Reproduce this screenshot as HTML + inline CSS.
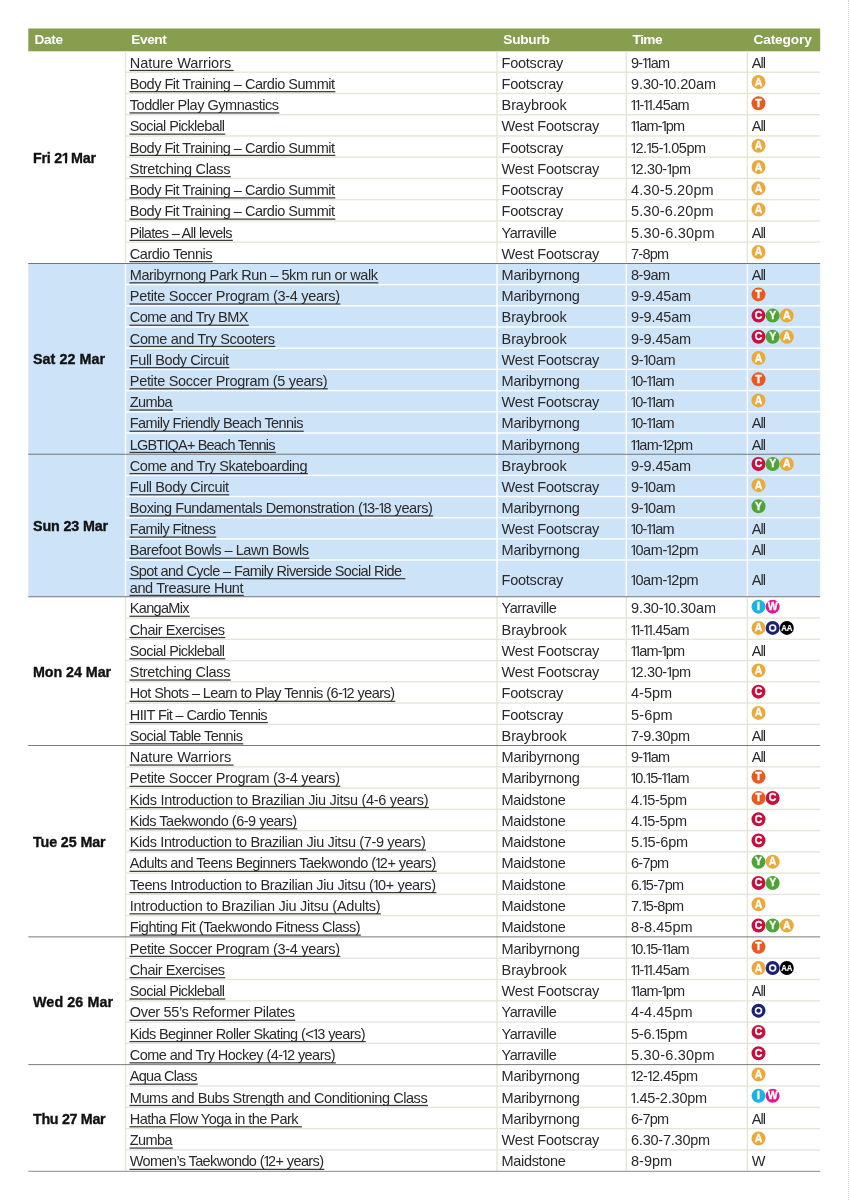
<!DOCTYPE html>
<html><head><meta charset="utf-8"><title>Active Maribyrnong timetable</title><style>
html,body{margin:0;padding:0}
body{width:849px;height:1200px;position:relative;background:#fff;overflow:hidden;font-family:"Liberation Sans",sans-serif;color:#2b2829}
div{position:absolute;box-sizing:border-box}
.hd{color:#fff;font-weight:bold;font-size:13.7px;top:28.5px;height:22.5px;line-height:22.5px;white-space:nowrap}
.t{white-space:pre;font-size:14.5px}
.e{}
.d{font-weight:bold;font-size:14.3px;color:#111;-webkit-text-stroke:0.35px #111}
.d i{margin-left:-0.03em;margin-right:-0.15em;clip-path:polygon(0 0,100% 0,100% 0.70em,0.376em 0.70em,0.376em 100%,0.228em 100%,0.228em 0.70em,0 0.70em)}
.c{width:14px;height:14px;border-radius:50%;color:#fff;font-weight:bold;font-size:10.6px;line-height:14.4px;text-align:center;-webkit-text-stroke:0.25px #fff}
i{font-style:normal;display:inline-block;line-height:1;margin-left:-0.07em;margin-right:-0.155em;clip-path:polygon(0 0,100% 0,100% 0.74em,0.345em 0.74em,0.345em 100%,0.247em 100%,0.247em 0.74em,0 0.74em)}
.ct{font-family:"Liberation Sans",sans-serif;font-weight:bold;fill:#fff;text-anchor:middle;stroke:#fff;stroke-width:0.35px}
.hl{height:1.4px;left:125.5px;width:694.7px}
.sl{height:1px;left:28.3px;width:791.9px;background:#6d6e70}
.vl{width:1.5px}

</style></head><body><div id="w" style="left:0;top:0;width:849px;height:1200px;will-change:transform;">
<div style="left:848px;top:0;width:1px;height:1200px;border-left:1px dotted #d2d2d2"></div>
<svg width="849" height="1200" viewBox="0 0 849 1200" style="position:absolute;left:0;top:0"><rect x="28.30" y="28.50" width="791.90" height="22.80" fill="#869e4e"/><rect x="28.30" y="263.40" width="791.90" height="190.80" fill="#cde3f7"/><rect x="28.30" y="454.20" width="791.90" height="142.60" fill="#cde3f7"/><rect x="124.80" y="51.00" width="1.40" height="212.40" fill="#e4e7d7"/><rect x="496.30" y="51.00" width="1.40" height="212.40" fill="#e4e7d7"/><rect x="625.60" y="51.00" width="1.40" height="212.40" fill="#e4e7d7"/><rect x="746.70" y="51.00" width="1.40" height="212.40" fill="#e4e7d7"/><rect x="124.80" y="71.54" width="695.40" height="1.40" fill="#e4e7d7"/><rect x="124.80" y="92.78" width="695.40" height="1.40" fill="#e4e7d7"/><rect x="124.80" y="114.02" width="695.40" height="1.40" fill="#e4e7d7"/><rect x="124.80" y="135.26" width="695.40" height="1.40" fill="#e4e7d7"/><rect x="124.80" y="156.50" width="695.40" height="1.40" fill="#e4e7d7"/><rect x="124.80" y="177.74" width="695.40" height="1.40" fill="#e4e7d7"/><rect x="124.80" y="198.98" width="695.40" height="1.40" fill="#e4e7d7"/><rect x="124.80" y="220.22" width="695.40" height="1.40" fill="#e4e7d7"/><rect x="124.80" y="241.46" width="695.40" height="1.40" fill="#e4e7d7"/><rect x="124.80" y="263.40" width="1.40" height="190.80" fill="#fff"/><rect x="496.30" y="263.40" width="1.40" height="190.80" fill="#fff"/><rect x="625.60" y="263.40" width="1.40" height="190.80" fill="#fff"/><rect x="746.70" y="263.40" width="1.40" height="190.80" fill="#fff"/><rect x="124.80" y="283.90" width="695.40" height="1.40" fill="#fff"/><rect x="124.80" y="305.10" width="695.40" height="1.40" fill="#fff"/><rect x="124.80" y="326.30" width="695.40" height="1.40" fill="#fff"/><rect x="124.80" y="347.50" width="695.40" height="1.40" fill="#fff"/><rect x="124.80" y="368.70" width="695.40" height="1.40" fill="#fff"/><rect x="124.80" y="389.90" width="695.40" height="1.40" fill="#fff"/><rect x="124.80" y="411.10" width="695.40" height="1.40" fill="#fff"/><rect x="124.80" y="432.30" width="695.40" height="1.40" fill="#fff"/><rect x="124.80" y="454.20" width="1.40" height="142.60" fill="#fff"/><rect x="496.30" y="454.20" width="1.40" height="142.60" fill="#fff"/><rect x="625.60" y="454.20" width="1.40" height="142.60" fill="#fff"/><rect x="746.70" y="454.20" width="1.40" height="142.60" fill="#fff"/><rect x="124.80" y="474.66" width="695.40" height="1.40" fill="#fff"/><rect x="124.80" y="495.82" width="695.40" height="1.40" fill="#fff"/><rect x="124.80" y="516.98" width="695.40" height="1.40" fill="#fff"/><rect x="124.80" y="538.14" width="695.40" height="1.40" fill="#fff"/><rect x="124.80" y="559.30" width="695.40" height="1.40" fill="#fff"/><rect x="124.80" y="596.80" width="1.40" height="148.80" fill="#e4e7d7"/><rect x="496.30" y="596.80" width="1.40" height="148.80" fill="#e4e7d7"/><rect x="625.60" y="596.80" width="1.40" height="148.80" fill="#e4e7d7"/><rect x="746.70" y="596.80" width="1.40" height="148.80" fill="#e4e7d7"/><rect x="124.80" y="617.36" width="695.40" height="1.40" fill="#e4e7d7"/><rect x="124.80" y="638.61" width="695.40" height="1.40" fill="#e4e7d7"/><rect x="124.80" y="659.87" width="695.40" height="1.40" fill="#e4e7d7"/><rect x="124.80" y="681.13" width="695.40" height="1.40" fill="#e4e7d7"/><rect x="124.80" y="702.39" width="695.40" height="1.40" fill="#e4e7d7"/><rect x="124.80" y="723.64" width="695.40" height="1.40" fill="#e4e7d7"/><rect x="124.80" y="745.60" width="1.40" height="191.30" fill="#e4e7d7"/><rect x="496.30" y="745.60" width="1.40" height="191.30" fill="#e4e7d7"/><rect x="625.60" y="745.60" width="1.40" height="191.30" fill="#e4e7d7"/><rect x="746.70" y="745.60" width="1.40" height="191.30" fill="#e4e7d7"/><rect x="124.80" y="766.16" width="695.40" height="1.40" fill="#e4e7d7"/><rect x="124.80" y="787.41" width="695.40" height="1.40" fill="#e4e7d7"/><rect x="124.80" y="808.67" width="695.40" height="1.40" fill="#e4e7d7"/><rect x="124.80" y="829.92" width="695.40" height="1.40" fill="#e4e7d7"/><rect x="124.80" y="851.18" width="695.40" height="1.40" fill="#e4e7d7"/><rect x="124.80" y="872.43" width="695.40" height="1.40" fill="#e4e7d7"/><rect x="124.80" y="893.69" width="695.40" height="1.40" fill="#e4e7d7"/><rect x="124.80" y="914.94" width="695.40" height="1.40" fill="#e4e7d7"/><rect x="124.80" y="936.90" width="1.40" height="127.80" fill="#e4e7d7"/><rect x="496.30" y="936.90" width="1.40" height="127.80" fill="#e4e7d7"/><rect x="625.60" y="936.90" width="1.40" height="127.80" fill="#e4e7d7"/><rect x="746.70" y="936.90" width="1.40" height="127.80" fill="#e4e7d7"/><rect x="124.80" y="957.50" width="695.40" height="1.40" fill="#e4e7d7"/><rect x="124.80" y="978.80" width="695.40" height="1.40" fill="#e4e7d7"/><rect x="124.80" y="1000.10" width="695.40" height="1.40" fill="#e4e7d7"/><rect x="124.80" y="1021.40" width="695.40" height="1.40" fill="#e4e7d7"/><rect x="124.80" y="1042.70" width="695.40" height="1.40" fill="#e4e7d7"/><rect x="124.80" y="1064.70" width="1.40" height="106.50" fill="#e4e7d7"/><rect x="496.30" y="1064.70" width="1.40" height="106.50" fill="#e4e7d7"/><rect x="625.60" y="1064.70" width="1.40" height="106.50" fill="#e4e7d7"/><rect x="746.70" y="1064.70" width="1.40" height="106.50" fill="#e4e7d7"/><rect x="124.80" y="1085.30" width="695.40" height="1.40" fill="#e4e7d7"/><rect x="124.80" y="1106.60" width="695.40" height="1.40" fill="#e4e7d7"/><rect x="124.80" y="1127.90" width="695.40" height="1.40" fill="#e4e7d7"/><rect x="124.80" y="1149.20" width="695.40" height="1.40" fill="#e4e7d7"/><rect x="28.30" y="263.00" width="791.90" height="0.80" fill="#58595b"/><rect x="28.30" y="453.80" width="791.90" height="0.80" fill="#58595b"/><rect x="28.30" y="596.40" width="791.90" height="0.80" fill="#58595b"/><rect x="28.30" y="745.20" width="791.90" height="0.80" fill="#58595b"/><rect x="28.30" y="936.50" width="791.90" height="0.80" fill="#58595b"/><rect x="28.30" y="1064.30" width="791.90" height="0.80" fill="#58595b"/><rect x="28.30" y="1170.80" width="791.90" height="1.00" fill="#8a8b8d"/><rect x="129.50" y="69.83" width="104.10" height="1.25" fill="#3c3a3b"/><rect x="129.50" y="91.06" width="205.80" height="1.25" fill="#3c3a3b"/><rect x="129.50" y="112.30" width="149.80" height="1.25" fill="#3c3a3b"/><rect x="129.50" y="133.54" width="95.80" height="1.25" fill="#3c3a3b"/><rect x="129.50" y="154.78" width="205.80" height="1.25" fill="#3c3a3b"/><rect x="129.50" y="176.02" width="101.30" height="1.25" fill="#3c3a3b"/><rect x="129.50" y="197.26" width="205.80" height="1.25" fill="#3c3a3b"/><rect x="129.50" y="218.50" width="205.80" height="1.25" fill="#3c3a3b"/><rect x="129.50" y="239.75" width="103.30" height="1.25" fill="#3c3a3b"/><rect x="129.50" y="260.99" width="83.30" height="1.25" fill="#3c3a3b"/><rect x="129.50" y="282.20" width="248.80" height="1.25" fill="#3c3a3b"/><rect x="129.50" y="303.40" width="210.80" height="1.25" fill="#3c3a3b"/><rect x="129.50" y="324.60" width="119.30" height="1.25" fill="#3c3a3b"/><rect x="129.50" y="345.80" width="145.80" height="1.25" fill="#3c3a3b"/><rect x="129.50" y="367.00" width="99.80" height="1.25" fill="#3c3a3b"/><rect x="129.50" y="388.20" width="198.30" height="1.25" fill="#3c3a3b"/><rect x="129.50" y="409.40" width="43.30" height="1.25" fill="#3c3a3b"/><rect x="129.50" y="430.60" width="174.30" height="1.25" fill="#3c3a3b"/><rect x="129.50" y="451.80" width="146.30" height="1.25" fill="#3c3a3b"/><rect x="129.50" y="472.98" width="178.30" height="1.25" fill="#3c3a3b"/><rect x="129.50" y="494.14" width="99.80" height="1.25" fill="#3c3a3b"/><rect x="129.50" y="515.30" width="303.60" height="1.25" fill="#3c3a3b"/><rect x="129.50" y="536.47" width="86.80" height="1.25" fill="#3c3a3b"/><rect x="129.50" y="557.62" width="179.80" height="1.25" fill="#3c3a3b"/><rect x="129.50" y="578.02" width="275.80" height="1.25" fill="#3c3a3b"/><rect x="129.50" y="594.82" width="114.30" height="1.25" fill="#3c3a3b"/><rect x="129.50" y="615.63" width="60.30" height="1.25" fill="#3c3a3b"/><rect x="129.50" y="636.89" width="95.80" height="1.25" fill="#3c3a3b"/><rect x="129.50" y="658.15" width="95.80" height="1.25" fill="#3c3a3b"/><rect x="129.50" y="679.41" width="101.30" height="1.25" fill="#3c3a3b"/><rect x="129.50" y="700.66" width="265.80" height="1.25" fill="#3c3a3b"/><rect x="129.50" y="721.92" width="138.30" height="1.25" fill="#3c3a3b"/><rect x="129.50" y="743.18" width="113.80" height="1.25" fill="#3c3a3b"/><rect x="129.50" y="764.43" width="104.10" height="1.25" fill="#3c3a3b"/><rect x="129.50" y="785.69" width="210.80" height="1.25" fill="#3c3a3b"/><rect x="129.50" y="806.94" width="299.40" height="1.25" fill="#3c3a3b"/><rect x="129.50" y="828.20" width="167.80" height="1.25" fill="#3c3a3b"/><rect x="129.50" y="849.46" width="296.60" height="1.25" fill="#3c3a3b"/><rect x="129.50" y="870.71" width="307.20" height="1.25" fill="#3c3a3b"/><rect x="129.50" y="891.97" width="306.80" height="1.25" fill="#3c3a3b"/><rect x="129.50" y="913.22" width="251.30" height="1.25" fill="#3c3a3b"/><rect x="129.50" y="934.48" width="231.30" height="1.25" fill="#3c3a3b"/><rect x="129.50" y="955.75" width="210.80" height="1.25" fill="#3c3a3b"/><rect x="129.50" y="977.06" width="95.80" height="1.25" fill="#3c3a3b"/><rect x="129.50" y="998.36" width="95.80" height="1.25" fill="#3c3a3b"/><rect x="129.50" y="1019.65" width="165.80" height="1.25" fill="#3c3a3b"/><rect x="129.50" y="1040.95" width="236.30" height="1.25" fill="#3c3a3b"/><rect x="129.50" y="1062.25" width="206.30" height="1.25" fill="#3c3a3b"/><rect x="129.50" y="1083.56" width="68.30" height="1.25" fill="#3c3a3b"/><rect x="129.50" y="1104.86" width="298.50" height="1.25" fill="#3c3a3b"/><rect x="129.50" y="1126.15" width="172.30" height="1.25" fill="#3c3a3b"/><rect x="129.50" y="1147.45" width="43.30" height="1.25" fill="#3c3a3b"/><rect x="129.50" y="1168.75" width="194.80" height="1.25" fill="#3c3a3b"/><circle cx="758.50" cy="82.06" r="7" fill="#eda83a"/><text x="758.50" y="85.56" font-size="10.5" class="ct">A</text><circle cx="758.50" cy="103.30" r="7" fill="#ea5a1e"/><text x="758.50" y="106.80" font-size="10.5" class="ct">T</text><circle cx="758.50" cy="145.78" r="7" fill="#eda83a"/><text x="758.50" y="149.28" font-size="10.5" class="ct">A</text><circle cx="758.50" cy="167.02" r="7" fill="#eda83a"/><text x="758.50" y="170.52" font-size="10.5" class="ct">A</text><circle cx="758.50" cy="188.26" r="7" fill="#eda83a"/><text x="758.50" y="191.76" font-size="10.5" class="ct">A</text><circle cx="758.50" cy="209.50" r="7" fill="#eda83a"/><text x="758.50" y="213.00" font-size="10.5" class="ct">A</text><circle cx="758.50" cy="251.98" r="7" fill="#eda83a"/><text x="758.50" y="255.48" font-size="10.5" class="ct">A</text><circle cx="758.50" cy="294.40" r="7" fill="#ea5a1e"/><text x="758.50" y="297.90" font-size="10.5" class="ct">T</text><circle cx="758.50" cy="315.60" r="7" fill="#c8103f"/><text x="758.50" y="319.10" font-size="10.5" class="ct">C</text><circle cx="772.65" cy="315.60" r="7" fill="#4ea536"/><text x="772.65" y="319.10" font-size="10.5" class="ct">Y</text><circle cx="786.80" cy="315.60" r="7" fill="#eda83a"/><text x="786.80" y="319.10" font-size="10.5" class="ct">A</text><circle cx="758.50" cy="336.80" r="7" fill="#c8103f"/><text x="758.50" y="340.30" font-size="10.5" class="ct">C</text><circle cx="772.65" cy="336.80" r="7" fill="#4ea536"/><text x="772.65" y="340.30" font-size="10.5" class="ct">Y</text><circle cx="786.80" cy="336.80" r="7" fill="#eda83a"/><text x="786.80" y="340.30" font-size="10.5" class="ct">A</text><circle cx="758.50" cy="358.00" r="7" fill="#eda83a"/><text x="758.50" y="361.50" font-size="10.5" class="ct">A</text><circle cx="758.50" cy="379.20" r="7" fill="#ea5a1e"/><text x="758.50" y="382.70" font-size="10.5" class="ct">T</text><circle cx="758.50" cy="400.40" r="7" fill="#eda83a"/><text x="758.50" y="403.90" font-size="10.5" class="ct">A</text><circle cx="758.50" cy="463.98" r="7" fill="#c8103f"/><text x="758.50" y="467.48" font-size="10.5" class="ct">C</text><circle cx="772.65" cy="463.98" r="7" fill="#4ea536"/><text x="772.65" y="467.48" font-size="10.5" class="ct">Y</text><circle cx="786.80" cy="463.98" r="7" fill="#eda83a"/><text x="786.80" y="467.48" font-size="10.5" class="ct">A</text><circle cx="758.50" cy="485.14" r="7" fill="#eda83a"/><text x="758.50" y="488.64" font-size="10.5" class="ct">A</text><circle cx="758.50" cy="506.30" r="7" fill="#4ea536"/><text x="758.50" y="509.80" font-size="10.5" class="ct">Y</text><circle cx="758.50" cy="606.63" r="7" fill="#1ab4e2"/><text x="758.50" y="610.13" font-size="10.5" class="ct">I</text><circle cx="772.65" cy="606.63" r="7" fill="#e5158c"/><text x="772.65" y="610.13" font-size="10.5" class="ct">W</text><circle cx="758.50" cy="627.89" r="7" fill="#eda83a"/><text x="758.50" y="631.39" font-size="10.5" class="ct">A</text><circle cx="772.65" cy="627.89" r="7" fill="#1c2173"/><circle cx="772.65" cy="627.89" r="2.95" fill="none" stroke="#fff" stroke-width="1.6"/><circle cx="786.80" cy="627.89" r="7" fill="#000"/><text transform="translate(786.80,630.89) scale(0.8,1)" font-size="9.8" class="ct" style="stroke-width:0.2px">AA</text><circle cx="758.50" cy="670.40" r="7" fill="#eda83a"/><text x="758.50" y="673.90" font-size="10.5" class="ct">A</text><circle cx="758.50" cy="691.66" r="7" fill="#c8103f"/><text x="758.50" y="695.16" font-size="10.5" class="ct">C</text><circle cx="758.50" cy="712.91" r="7" fill="#eda83a"/><text x="758.50" y="716.41" font-size="10.5" class="ct">A</text><circle cx="758.50" cy="776.68" r="7" fill="#ea5a1e"/><text x="758.50" y="780.18" font-size="10.5" class="ct">T</text><circle cx="758.50" cy="797.94" r="7" fill="#ea5a1e"/><text x="758.50" y="801.44" font-size="10.5" class="ct">T</text><circle cx="772.65" cy="797.94" r="7" fill="#c8103f"/><text x="772.65" y="801.44" font-size="10.5" class="ct">C</text><circle cx="758.50" cy="819.19" r="7" fill="#c8103f"/><text x="758.50" y="822.69" font-size="10.5" class="ct">C</text><circle cx="758.50" cy="840.45" r="7" fill="#c8103f"/><text x="758.50" y="843.95" font-size="10.5" class="ct">C</text><circle cx="758.50" cy="861.71" r="7" fill="#4ea536"/><text x="758.50" y="865.21" font-size="10.5" class="ct">Y</text><circle cx="772.65" cy="861.71" r="7" fill="#eda83a"/><text x="772.65" y="865.21" font-size="10.5" class="ct">A</text><circle cx="758.50" cy="882.96" r="7" fill="#c8103f"/><text x="758.50" y="886.46" font-size="10.5" class="ct">C</text><circle cx="772.65" cy="882.96" r="7" fill="#4ea536"/><text x="772.65" y="886.46" font-size="10.5" class="ct">Y</text><circle cx="758.50" cy="904.22" r="7" fill="#eda83a"/><text x="758.50" y="907.72" font-size="10.5" class="ct">A</text><circle cx="758.50" cy="925.47" r="7" fill="#c8103f"/><text x="758.50" y="928.97" font-size="10.5" class="ct">C</text><circle cx="772.65" cy="925.47" r="7" fill="#4ea536"/><text x="772.65" y="928.97" font-size="10.5" class="ct">Y</text><circle cx="786.80" cy="925.47" r="7" fill="#eda83a"/><text x="786.80" y="928.97" font-size="10.5" class="ct">A</text><circle cx="758.50" cy="946.75" r="7" fill="#ea5a1e"/><text x="758.50" y="950.25" font-size="10.5" class="ct">T</text><circle cx="758.50" cy="968.05" r="7" fill="#eda83a"/><text x="758.50" y="971.55" font-size="10.5" class="ct">A</text><circle cx="772.65" cy="968.05" r="7" fill="#1c2173"/><circle cx="772.65" cy="968.05" r="2.95" fill="none" stroke="#fff" stroke-width="1.6"/><circle cx="786.80" cy="968.05" r="7" fill="#000"/><text transform="translate(786.80,971.05) scale(0.8,1)" font-size="9.8" class="ct" style="stroke-width:0.2px">AA</text><circle cx="758.50" cy="1010.65" r="7" fill="#1c2173"/><circle cx="758.50" cy="1010.65" r="2.95" fill="none" stroke="#fff" stroke-width="1.6"/><circle cx="758.50" cy="1031.95" r="7" fill="#c8103f"/><text x="758.50" y="1035.45" font-size="10.5" class="ct">C</text><circle cx="758.50" cy="1053.25" r="7" fill="#c8103f"/><text x="758.50" y="1056.75" font-size="10.5" class="ct">C</text><circle cx="758.50" cy="1074.55" r="7" fill="#eda83a"/><text x="758.50" y="1078.05" font-size="10.5" class="ct">A</text><circle cx="758.50" cy="1095.85" r="7" fill="#1ab4e2"/><text x="758.50" y="1099.35" font-size="10.5" class="ct">I</text><circle cx="772.65" cy="1095.85" r="7" fill="#e5158c"/><text x="772.65" y="1099.35" font-size="10.5" class="ct">W</text><circle cx="758.50" cy="1138.45" r="7" fill="#eda83a"/><text x="758.50" y="1141.95" font-size="10.5" class="ct">A</text></svg>
<div class="hd" style="left:34.4px;letter-spacing:-0.324px">Date</div>
<div class="hd" style="left:131.3px;letter-spacing:-0.445px">Event</div>
<div class="hd" style="left:503.3px;letter-spacing:-0.281px">Suburb</div>
<div class="hd" style="left:632.6px;letter-spacing:-0.568px">Time</div>
<div class="hd" style="left:753.5px;letter-spacing:-0.147px">Category</div>
<div class="t e" style="left:129.8px;top:53.00px;height:21.24px;line-height:21.24px;letter-spacing:-0.028px">Nature Warriors</div>
<div class="t s" style="left:501.6px;top:53.00px;height:21.24px;line-height:21.24px;letter-spacing:-0.246px">Footscray</div>
<div class="t m" style="left:631.0px;top:53.00px;height:21.24px;line-height:21.24px;letter-spacing:-0.710px">9-<i>1</i><i>1</i>am</div>
<div class="t a" style="left:751.8px;top:53.00px;height:21.24px;line-height:21.24px;letter-spacing:-0.912px">All</div>
<div class="t e" style="left:129.8px;top:74.00px;height:21.24px;line-height:21.24px;letter-spacing:-0.488px">Body Fit Training – Cardio Summit</div>
<div class="t s" style="left:501.6px;top:74.00px;height:21.24px;line-height:21.24px;letter-spacing:-0.246px">Footscray</div>
<div class="t m" style="left:631.0px;top:74.00px;height:21.24px;line-height:21.24px;letter-spacing:-0.107px">9.30-<i>1</i>0.20am</div>
<div class="t e" style="left:129.8px;top:95.00px;height:21.24px;line-height:21.24px;letter-spacing:-0.471px">Toddler Play Gymnastics</div>
<div class="t s" style="left:501.6px;top:95.00px;height:21.24px;line-height:21.24px;letter-spacing:-0.112px">Braybrook</div>
<div class="t m" style="left:631.0px;top:95.00px;height:21.24px;line-height:21.24px;letter-spacing:-0.648px"><i>1</i><i>1</i>-<i>1</i><i>1</i>.45am</div>
<div class="t e" style="left:129.8px;top:116.00px;height:21.24px;line-height:21.24px;letter-spacing:-0.599px">Social Pickleball</div>
<div class="t s" style="left:501.6px;top:116.00px;height:21.24px;line-height:21.24px;letter-spacing:-0.212px">West Footscray</div>
<div class="t m" style="left:631.0px;top:116.00px;height:21.24px;line-height:21.24px;letter-spacing:-0.782px"><i>1</i><i>1</i>am-<i>1</i>pm</div>
<div class="t a" style="left:751.8px;top:116.00px;height:21.24px;line-height:21.24px;letter-spacing:-0.912px">All</div>
<div class="t e" style="left:129.8px;top:138.00px;height:21.24px;line-height:21.24px;letter-spacing:-0.488px">Body Fit Training – Cardio Summit</div>
<div class="t s" style="left:501.6px;top:138.00px;height:21.24px;line-height:21.24px;letter-spacing:-0.246px">Footscray</div>
<div class="t m" style="left:631.0px;top:138.00px;height:21.24px;line-height:21.24px;letter-spacing:-0.422px"><i>1</i>2.<i>1</i>5-<i>1</i>.05pm</div>
<div class="t e" style="left:129.8px;top:159.00px;height:21.24px;line-height:21.24px;letter-spacing:-0.325px">Stretching Class</div>
<div class="t s" style="left:501.6px;top:159.00px;height:21.24px;line-height:21.24px;letter-spacing:-0.212px">West Footscray</div>
<div class="t m" style="left:631.0px;top:159.00px;height:21.24px;line-height:21.24px;letter-spacing:-0.338px"><i>1</i>2.30-<i>1</i>pm</div>
<div class="t e" style="left:129.8px;top:180.00px;height:21.24px;line-height:21.24px;letter-spacing:-0.488px">Body Fit Training – Cardio Summit</div>
<div class="t s" style="left:501.6px;top:180.00px;height:21.24px;line-height:21.24px;letter-spacing:-0.246px">Footscray</div>
<div class="t m" style="left:631.0px;top:180.00px;height:21.24px;line-height:21.24px;letter-spacing:0.128px">4.30-5.20pm</div>
<div class="t e" style="left:129.8px;top:201.00px;height:21.24px;line-height:21.24px;letter-spacing:-0.488px">Body Fit Training – Cardio Summit</div>
<div class="t s" style="left:501.6px;top:201.00px;height:21.24px;line-height:21.24px;letter-spacing:-0.246px">Footscray</div>
<div class="t m" style="left:631.0px;top:201.00px;height:21.24px;line-height:21.24px;letter-spacing:0.128px">5.30-6.20pm</div>
<div class="t e" style="left:129.8px;top:223.00px;height:21.24px;line-height:21.24px;letter-spacing:-0.703px">Pilates – All levels</div>
<div class="t s" style="left:501.6px;top:223.00px;height:21.24px;line-height:21.24px;letter-spacing:-0.462px">Yarraville</div>
<div class="t m" style="left:631.0px;top:223.00px;height:21.24px;line-height:21.24px;letter-spacing:0.228px">5.30-6.30pm</div>
<div class="t a" style="left:751.8px;top:223.00px;height:21.24px;line-height:21.24px;letter-spacing:-0.912px">All</div>
<div class="t e" style="left:129.8px;top:244.00px;height:21.24px;line-height:21.24px;letter-spacing:-0.476px">Cardio Tennis</div>
<div class="t s" style="left:501.6px;top:244.00px;height:21.24px;line-height:21.24px;letter-spacing:-0.212px">West Footscray</div>
<div class="t m" style="left:631.0px;top:244.00px;height:21.24px;line-height:21.24px;letter-spacing:-0.727px">7-8pm</div>
<div class="t d" style="left:33px;top:51.00px;height:212.40px;line-height:214.60px;letter-spacing:-0.222px">Fri 2<i>1</i> Mar</div>
<div class="t e" style="left:129.8px;top:265.00px;height:21.20px;line-height:21.20px;letter-spacing:-0.414px">Maribyrnong Park Run – 5km run or walk</div>
<div class="t s" style="left:501.6px;top:265.00px;height:21.20px;line-height:21.20px;letter-spacing:-0.239px">Maribyrnong</div>
<div class="t m" style="left:631.0px;top:265.00px;height:21.20px;line-height:21.20px;letter-spacing:-0.477px">8-9am</div>
<div class="t a" style="left:751.8px;top:265.00px;height:21.20px;line-height:21.20px;letter-spacing:-0.912px">All</div>
<div class="t e" style="left:129.8px;top:286.00px;height:21.20px;line-height:21.20px;letter-spacing:-0.306px">Petite Soccer Program (3-4 years)</div>
<div class="t s" style="left:501.6px;top:286.00px;height:21.20px;line-height:21.20px;letter-spacing:-0.239px">Maribyrnong</div>
<div class="t m" style="left:631.0px;top:286.00px;height:21.20px;line-height:21.20px;letter-spacing:-0.152px">9-9.45am</div>
<div class="t e" style="left:129.8px;top:307.00px;height:21.20px;line-height:21.20px;letter-spacing:-0.521px">Come and Try BMX</div>
<div class="t s" style="left:501.6px;top:307.00px;height:21.20px;line-height:21.20px;letter-spacing:-0.112px">Braybrook</div>
<div class="t m" style="left:631.0px;top:307.00px;height:21.20px;line-height:21.20px;letter-spacing:-0.152px">9-9.45am</div>
<div class="t e" style="left:129.8px;top:329.00px;height:21.20px;line-height:21.20px;letter-spacing:-0.356px">Come and Try Scooters</div>
<div class="t s" style="left:501.6px;top:329.00px;height:21.20px;line-height:21.20px;letter-spacing:-0.112px">Braybrook</div>
<div class="t m" style="left:631.0px;top:329.00px;height:21.20px;line-height:21.20px;letter-spacing:-0.152px">9-9.45am</div>
<div class="t e" style="left:129.8px;top:350.00px;height:21.20px;line-height:21.20px;letter-spacing:-0.398px">Full Body Circuit</div>
<div class="t s" style="left:501.6px;top:350.00px;height:21.20px;line-height:21.20px;letter-spacing:-0.212px">West Footscray</div>
<div class="t m" style="left:631.0px;top:350.00px;height:21.20px;line-height:21.20px;letter-spacing:-0.254px">9-<i>1</i>0am</div>
<div class="t e" style="left:129.8px;top:371.00px;height:21.20px;line-height:21.20px;letter-spacing:-0.314px">Petite Soccer Program (5 years)</div>
<div class="t s" style="left:501.6px;top:371.00px;height:21.20px;line-height:21.20px;letter-spacing:-0.239px">Maribyrnong</div>
<div class="t m" style="left:631.0px;top:371.00px;height:21.20px;line-height:21.20px;letter-spacing:-0.649px"><i>1</i>0-<i>1</i><i>1</i>am</div>
<div class="t e" style="left:129.8px;top:392.00px;height:21.20px;line-height:21.20px;letter-spacing:-0.610px">Zumba</div>
<div class="t s" style="left:501.6px;top:392.00px;height:21.20px;line-height:21.20px;letter-spacing:-0.212px">West Footscray</div>
<div class="t m" style="left:631.0px;top:392.00px;height:21.20px;line-height:21.20px;letter-spacing:-0.649px"><i>1</i>0-<i>1</i><i>1</i>am</div>
<div class="t e" style="left:129.8px;top:413.00px;height:21.20px;line-height:21.20px;letter-spacing:-0.571px">Family Friendly Beach Tennis</div>
<div class="t s" style="left:501.6px;top:413.00px;height:21.20px;line-height:21.20px;letter-spacing:-0.239px">Maribyrnong</div>
<div class="t m" style="left:631.0px;top:413.00px;height:21.20px;line-height:21.20px;letter-spacing:-0.649px"><i>1</i>0-<i>1</i><i>1</i>am</div>
<div class="t a" style="left:751.8px;top:413.00px;height:21.20px;line-height:21.20px;letter-spacing:-0.912px">All</div>
<div class="t e" style="left:129.8px;top:435.00px;height:21.20px;line-height:21.20px;letter-spacing:-0.823px">LGBTIQA+ Beach Tennis</div>
<div class="t s" style="left:501.6px;top:435.00px;height:21.20px;line-height:21.20px;letter-spacing:-0.239px">Maribyrnong</div>
<div class="t m" style="left:631.0px;top:435.00px;height:21.20px;line-height:21.20px;letter-spacing:-0.692px"><i>1</i><i>1</i>am-<i>1</i>2pm</div>
<div class="t a" style="left:751.8px;top:435.00px;height:21.20px;line-height:21.20px;letter-spacing:-0.912px">All</div>
<div class="t d" style="left:33px;top:263.40px;height:190.80px;line-height:193.00px;letter-spacing:0.063px">Sat 22 Mar</div>
<div class="t e" style="left:129.8px;top:456.00px;height:21.16px;line-height:21.16px;letter-spacing:-0.436px">Come and Try Skateboarding</div>
<div class="t s" style="left:501.6px;top:456.00px;height:21.16px;line-height:21.16px;letter-spacing:-0.112px">Braybrook</div>
<div class="t m" style="left:631.0px;top:456.00px;height:21.16px;line-height:21.16px;letter-spacing:-0.152px">9-9.45am</div>
<div class="t e" style="left:129.8px;top:477.00px;height:21.16px;line-height:21.16px;letter-spacing:-0.398px">Full Body Circuit</div>
<div class="t s" style="left:501.6px;top:477.00px;height:21.16px;line-height:21.16px;letter-spacing:-0.212px">West Footscray</div>
<div class="t m" style="left:631.0px;top:477.00px;height:21.16px;line-height:21.16px;letter-spacing:-0.254px">9-<i>1</i>0am</div>
<div class="t e" style="left:129.8px;top:498.00px;height:21.16px;line-height:21.16px;letter-spacing:-0.422px">Boxing Fundamentals Demonstration (<i>1</i>3-<i>1</i>8 years)</div>
<div class="t s" style="left:501.6px;top:498.00px;height:21.16px;line-height:21.16px;letter-spacing:-0.239px">Maribyrnong</div>
<div class="t m" style="left:631.0px;top:498.00px;height:21.16px;line-height:21.16px;letter-spacing:-0.254px">9-<i>1</i>0am</div>
<div class="t e" style="left:129.8px;top:519.00px;height:21.16px;line-height:21.16px;letter-spacing:-0.559px">Family Fitness</div>
<div class="t s" style="left:501.6px;top:519.00px;height:21.16px;line-height:21.16px;letter-spacing:-0.212px">West Footscray</div>
<div class="t m" style="left:631.0px;top:519.00px;height:21.16px;line-height:21.16px;letter-spacing:-0.649px"><i>1</i>0-<i>1</i><i>1</i>am</div>
<div class="t a" style="left:751.8px;top:519.00px;height:21.16px;line-height:21.16px;letter-spacing:-0.912px">All</div>
<div class="t e" style="left:129.8px;top:540.00px;height:21.16px;line-height:21.16px;letter-spacing:-0.454px">Barefoot Bowls – Lawn Bowls</div>
<div class="t s" style="left:501.6px;top:540.00px;height:21.16px;line-height:21.16px;letter-spacing:-0.239px">Maribyrnong</div>
<div class="t m" style="left:631.0px;top:540.00px;height:21.16px;line-height:21.16px;letter-spacing:-0.407px"><i>1</i>0am-<i>1</i>2pm</div>
<div class="t a" style="left:751.8px;top:540.00px;height:21.16px;line-height:21.16px;letter-spacing:-0.912px">All</div>
<div class="t e" style="left:129.8px;top:561.00px;height:20.20px;line-height:20.20px;letter-spacing:-0.607px">Spot and Cycle – Family Riverside Social Ride</div>
<div class="t e" style="left:129.8px;top:578.00px;height:20.20px;line-height:20.20px;letter-spacing:-0.401px">and Treasure Hunt</div>
<div class="t s" style="left:501.6px;top:562.00px;height:36.80px;line-height:36.80px;letter-spacing:-0.246px">Footscray</div>
<div class="t m" style="left:631.0px;top:562.00px;height:36.80px;line-height:36.80px;letter-spacing:-0.407px"><i>1</i>0am-<i>1</i>2pm</div>
<div class="t a" style="left:751.8px;top:562.00px;height:36.80px;line-height:36.80px;letter-spacing:-0.912px">All</div>
<div class="t d" style="left:33px;top:454.20px;height:142.60px;line-height:144.80px;letter-spacing:-0.131px">Sun 23 Mar</div>
<div class="t e" style="left:129.8px;top:598.00px;height:21.26px;line-height:21.26px;letter-spacing:-0.683px">KangaMix</div>
<div class="t s" style="left:501.6px;top:598.00px;height:21.26px;line-height:21.26px;letter-spacing:-0.462px">Yarraville</div>
<div class="t m" style="left:631.0px;top:598.00px;height:21.26px;line-height:21.26px;letter-spacing:-0.107px">9.30-<i>1</i>0.30am</div>
<div class="t e" style="left:129.8px;top:620.00px;height:21.26px;line-height:21.26px;letter-spacing:-0.452px">Chair Exercises</div>
<div class="t s" style="left:501.6px;top:620.00px;height:21.26px;line-height:21.26px;letter-spacing:-0.112px">Braybrook</div>
<div class="t m" style="left:631.0px;top:620.00px;height:21.26px;line-height:21.26px;letter-spacing:-0.648px"><i>1</i><i>1</i>-<i>1</i><i>1</i>.45am</div>
<div class="t e" style="left:129.8px;top:641.00px;height:21.26px;line-height:21.26px;letter-spacing:-0.599px">Social Pickleball</div>
<div class="t s" style="left:501.6px;top:641.00px;height:21.26px;line-height:21.26px;letter-spacing:-0.212px">West Footscray</div>
<div class="t m" style="left:631.0px;top:641.00px;height:21.26px;line-height:21.26px;letter-spacing:-0.782px"><i>1</i><i>1</i>am-<i>1</i>pm</div>
<div class="t a" style="left:751.8px;top:641.00px;height:21.26px;line-height:21.26px;letter-spacing:-0.912px">All</div>
<div class="t e" style="left:129.8px;top:662.00px;height:21.26px;line-height:21.26px;letter-spacing:-0.325px">Stretching Class</div>
<div class="t s" style="left:501.6px;top:662.00px;height:21.26px;line-height:21.26px;letter-spacing:-0.212px">West Footscray</div>
<div class="t m" style="left:631.0px;top:662.00px;height:21.26px;line-height:21.26px;letter-spacing:-0.338px"><i>1</i>2.30-<i>1</i>pm</div>
<div class="t e" style="left:129.8px;top:683.00px;height:21.26px;line-height:21.26px;letter-spacing:-0.562px">Hot Shots – Learn to Play Tennis (6-<i>1</i>2 years)</div>
<div class="t s" style="left:501.6px;top:683.00px;height:21.26px;line-height:21.26px;letter-spacing:-0.246px">Footscray</div>
<div class="t m" style="left:631.0px;top:683.00px;height:21.26px;line-height:21.26px;letter-spacing:0.023px">4-5pm</div>
<div class="t e" style="left:129.8px;top:705.00px;height:21.26px;line-height:21.26px;letter-spacing:-0.612px">HIIT Fit – Cardio Tennis</div>
<div class="t s" style="left:501.6px;top:705.00px;height:21.26px;line-height:21.26px;letter-spacing:-0.246px">Footscray</div>
<div class="t m" style="left:631.0px;top:705.00px;height:21.26px;line-height:21.26px;letter-spacing:0.148px">5-6pm</div>
<div class="t e" style="left:129.8px;top:726.00px;height:21.26px;line-height:21.26px;letter-spacing:-0.578px">Social Table Tennis</div>
<div class="t s" style="left:501.6px;top:726.00px;height:21.26px;line-height:21.26px;letter-spacing:-0.112px">Braybrook</div>
<div class="t m" style="left:631.0px;top:726.00px;height:21.26px;line-height:21.26px;letter-spacing:-0.295px">7-9.30pm</div>
<div class="t a" style="left:751.8px;top:726.00px;height:21.26px;line-height:21.26px;letter-spacing:-0.912px">All</div>
<div class="t d" style="left:33px;top:596.80px;height:148.80px;line-height:151.00px;letter-spacing:-0.062px">Mon 24 Mar</div>
<div class="t e" style="left:129.8px;top:747.00px;height:21.26px;line-height:21.26px;letter-spacing:-0.028px">Nature Warriors</div>
<div class="t s" style="left:501.6px;top:747.00px;height:21.26px;line-height:21.26px;letter-spacing:-0.239px">Maribyrnong</div>
<div class="t m" style="left:631.0px;top:747.00px;height:21.26px;line-height:21.26px;letter-spacing:-0.710px">9-<i>1</i><i>1</i>am</div>
<div class="t a" style="left:751.8px;top:747.00px;height:21.26px;line-height:21.26px;letter-spacing:-0.912px">All</div>
<div class="t e" style="left:129.8px;top:768.00px;height:21.26px;line-height:21.26px;letter-spacing:-0.306px">Petite Soccer Program (3-4 years)</div>
<div class="t s" style="left:501.6px;top:768.00px;height:21.26px;line-height:21.26px;letter-spacing:-0.239px">Maribyrnong</div>
<div class="t m" style="left:631.0px;top:768.00px;height:21.26px;line-height:21.26px;letter-spacing:-0.648px"><i>1</i>0.<i>1</i>5-<i>1</i><i>1</i>am</div>
<div class="t e" style="left:129.8px;top:790.00px;height:21.26px;line-height:21.26px;letter-spacing:-0.304px">Kids Introduction to Brazilian Jiu Jitsu (4-6 years)</div>
<div class="t s" style="left:501.6px;top:790.00px;height:21.26px;line-height:21.26px;letter-spacing:-0.338px">Maidstone</div>
<div class="t m" style="left:631.0px;top:790.00px;height:21.26px;line-height:21.26px;letter-spacing:-0.264px">4.<i>1</i>5-5pm</div>
<div class="t e" style="left:129.8px;top:811.00px;height:21.26px;line-height:21.26px;letter-spacing:-0.491px">Kids Taekwondo (6-9 years)</div>
<div class="t s" style="left:501.6px;top:811.00px;height:21.26px;line-height:21.26px;letter-spacing:-0.338px">Maidstone</div>
<div class="t m" style="left:631.0px;top:811.00px;height:21.26px;line-height:21.26px;letter-spacing:-0.264px">4.<i>1</i>5-5pm</div>
<div class="t e" style="left:129.8px;top:832.00px;height:21.26px;line-height:21.26px;letter-spacing:-0.359px">Kids Introduction to Brazilian Jiu Jitsu (7-9 years)</div>
<div class="t s" style="left:501.6px;top:832.00px;height:21.26px;line-height:21.26px;letter-spacing:-0.338px">Maidstone</div>
<div class="t m" style="left:631.0px;top:832.00px;height:21.26px;line-height:21.26px;letter-spacing:-0.121px">5.<i>1</i>5-6pm</div>
<div class="t e" style="left:129.8px;top:853.00px;height:21.26px;line-height:21.26px;letter-spacing:-0.540px">Adults and Teens Beginners Taekwondo (<i>1</i>2+ years)</div>
<div class="t s" style="left:501.6px;top:853.00px;height:21.26px;line-height:21.26px;letter-spacing:-0.338px">Maidstone</div>
<div class="t m" style="left:631.0px;top:853.00px;height:21.26px;line-height:21.26px;letter-spacing:-0.727px">6-7pm</div>
<div class="t e" style="left:129.8px;top:875.00px;height:21.26px;line-height:21.26px;letter-spacing:-0.366px">Teens Introduction to Brazilian Jiu Jitsu (<i>1</i>0+ years)</div>
<div class="t s" style="left:501.6px;top:875.00px;height:21.26px;line-height:21.26px;letter-spacing:-0.338px">Maidstone</div>
<div class="t m" style="left:631.0px;top:875.00px;height:21.26px;line-height:21.26px;letter-spacing:-0.692px">6.<i>1</i>5-7pm</div>
<div class="t e" style="left:129.8px;top:896.00px;height:21.26px;line-height:21.26px;letter-spacing:-0.261px">Introduction to Brazilian Jiu Jitsu (Adults)</div>
<div class="t s" style="left:501.6px;top:896.00px;height:21.26px;line-height:21.26px;letter-spacing:-0.338px">Maidstone</div>
<div class="t m" style="left:631.0px;top:896.00px;height:21.26px;line-height:21.26px;letter-spacing:-0.692px">7.<i>1</i>5-8pm</div>
<div class="t e" style="left:129.8px;top:917.00px;height:21.26px;line-height:21.26px;letter-spacing:-0.517px">Fighting Fit (Taekwondo Fitness Class)</div>
<div class="t s" style="left:501.6px;top:917.00px;height:21.26px;line-height:21.26px;letter-spacing:-0.338px">Maidstone</div>
<div class="t m" style="left:631.0px;top:917.00px;height:21.26px;line-height:21.26px;letter-spacing:0.062px">8-8.45pm</div>
<div class="t d" style="left:33px;top:745.60px;height:191.30px;line-height:193.50px;letter-spacing:-0.116px">Tue 25 Mar</div>
<div class="t e" style="left:129.8px;top:939.00px;height:21.30px;line-height:21.30px;letter-spacing:-0.306px">Petite Soccer Program (3-4 years)</div>
<div class="t s" style="left:501.6px;top:939.00px;height:21.30px;line-height:21.30px;letter-spacing:-0.239px">Maribyrnong</div>
<div class="t m" style="left:631.0px;top:939.00px;height:21.30px;line-height:21.30px;letter-spacing:-0.648px"><i>1</i>0.<i>1</i>5-<i>1</i><i>1</i>am</div>
<div class="t e" style="left:129.8px;top:960.00px;height:21.30px;line-height:21.30px;letter-spacing:-0.452px">Chair Exercises</div>
<div class="t s" style="left:501.6px;top:960.00px;height:21.30px;line-height:21.30px;letter-spacing:-0.112px">Braybrook</div>
<div class="t m" style="left:631.0px;top:960.00px;height:21.30px;line-height:21.30px;letter-spacing:-0.648px"><i>1</i><i>1</i>-<i>1</i><i>1</i>.45am</div>
<div class="t e" style="left:129.8px;top:981.00px;height:21.30px;line-height:21.30px;letter-spacing:-0.599px">Social Pickleball</div>
<div class="t s" style="left:501.6px;top:981.00px;height:21.30px;line-height:21.30px;letter-spacing:-0.212px">West Footscray</div>
<div class="t m" style="left:631.0px;top:981.00px;height:21.30px;line-height:21.30px;letter-spacing:-0.782px"><i>1</i><i>1</i>am-<i>1</i>pm</div>
<div class="t a" style="left:751.8px;top:981.00px;height:21.30px;line-height:21.30px;letter-spacing:-0.912px">All</div>
<div class="t e" style="left:129.8px;top:1002.00px;height:21.30px;line-height:21.30px;letter-spacing:-0.344px">Over 55’s Reformer Pilates</div>
<div class="t s" style="left:501.6px;top:1002.00px;height:21.30px;line-height:21.30px;letter-spacing:-0.462px">Yarraville</div>
<div class="t m" style="left:631.0px;top:1002.00px;height:21.30px;line-height:21.30px;letter-spacing:0.062px">4-4.45pm</div>
<div class="t e" style="left:129.8px;top:1024.00px;height:21.30px;line-height:21.30px;letter-spacing:-0.601px">Kids Beginner Roller Skating (&lt;<i>1</i>3 years)</div>
<div class="t s" style="left:501.6px;top:1024.00px;height:21.30px;line-height:21.30px;letter-spacing:-0.462px">Yarraville</div>
<div class="t m" style="left:631.0px;top:1024.00px;height:21.30px;line-height:21.30px;letter-spacing:-0.195px">5-6.<i>1</i>5pm</div>
<div class="t e" style="left:129.8px;top:1045.00px;height:21.30px;line-height:21.30px;letter-spacing:-0.540px">Come and Try Hockey (4-<i>1</i>2 years)</div>
<div class="t s" style="left:501.6px;top:1045.00px;height:21.30px;line-height:21.30px;letter-spacing:-0.462px">Yarraville</div>
<div class="t m" style="left:631.0px;top:1045.00px;height:21.30px;line-height:21.30px;letter-spacing:0.228px">5.30-6.30pm</div>
<div class="t d" style="left:33px;top:936.90px;height:127.80px;line-height:130.00px;letter-spacing:0.100px">Wed 26 Mar</div>
<div class="t e" style="left:129.8px;top:1066.00px;height:21.30px;line-height:21.30px;letter-spacing:-0.717px">Aqua Class</div>
<div class="t s" style="left:501.6px;top:1066.00px;height:21.30px;line-height:21.30px;letter-spacing:-0.239px">Maribyrnong</div>
<div class="t m" style="left:631.0px;top:1066.00px;height:21.30px;line-height:21.30px;letter-spacing:-0.419px"><i>1</i>2-<i>1</i>2.45pm</div>
<div class="t e" style="left:129.8px;top:1088.00px;height:21.30px;line-height:21.30px;letter-spacing:-0.429px">Mums and Bubs Strength and Conditioning Class</div>
<div class="t s" style="left:501.6px;top:1088.00px;height:21.30px;line-height:21.30px;letter-spacing:-0.239px">Maribyrnong</div>
<div class="t m" style="left:631.0px;top:1088.00px;height:21.30px;line-height:21.30px;letter-spacing:-0.200px"><i>1</i>.45-2.30pm</div>
<div class="t e" style="left:129.8px;top:1109.00px;height:21.30px;line-height:21.30px;letter-spacing:-0.549px">Hatha Flow Yoga in the Park</div>
<div class="t s" style="left:501.6px;top:1109.00px;height:21.30px;line-height:21.30px;letter-spacing:-0.239px">Maribyrnong</div>
<div class="t m" style="left:631.0px;top:1109.00px;height:21.30px;line-height:21.30px;letter-spacing:-0.727px">6-7pm</div>
<div class="t a" style="left:751.8px;top:1109.00px;height:21.30px;line-height:21.30px;letter-spacing:-0.912px">All</div>
<div class="t e" style="left:129.8px;top:1130.00px;height:21.30px;line-height:21.30px;letter-spacing:-0.610px">Zumba</div>
<div class="t s" style="left:501.6px;top:1130.00px;height:21.30px;line-height:21.30px;letter-spacing:-0.212px">West Footscray</div>
<div class="t m" style="left:631.0px;top:1130.00px;height:21.30px;line-height:21.30px;letter-spacing:-0.222px">6.30-7.30pm</div>
<div class="t e" style="left:129.8px;top:1151.00px;height:21.30px;line-height:21.30px;letter-spacing:-0.621px">Women’s Taekwondo (<i>1</i>2+ years)</div>
<div class="t s" style="left:501.6px;top:1151.00px;height:21.30px;line-height:21.30px;letter-spacing:-0.338px">Maidstone</div>
<div class="t m" style="left:631.0px;top:1151.00px;height:21.30px;line-height:21.30px;letter-spacing:0.023px">8-9pm</div>
<div class="t a" style="left:751.8px;top:1151.00px;height:21.30px;line-height:21.30px;letter-spacing:0.113px">W</div>
<div class="t d" style="left:33px;top:1064.70px;height:106.50px;line-height:108.70px;letter-spacing:-0.320px">Thu 27 Mar</div>
</div></body></html>
